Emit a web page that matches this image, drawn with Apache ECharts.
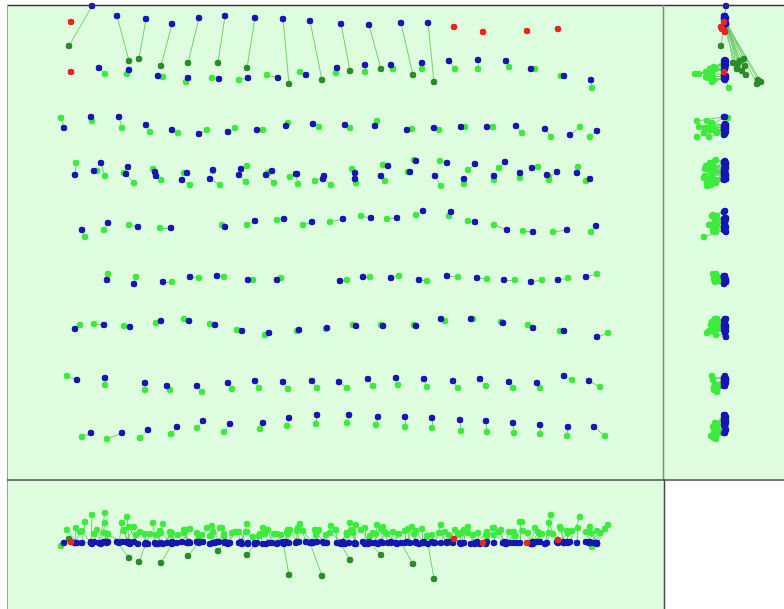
<!DOCTYPE html>
<html>
<head>
<meta charset="utf-8">
<script src="https://cdn.jsdelivr.net/npm/echarts@6/dist/echarts.min.js"></script>
<style>
  html, body { margin: 0; padding: 0; background: #ffffff; }
  #chart { width: 784px; height: 609px; }
</style>
</head>
<body>
<div id="chart"></div>
<script>
// Camera positions per flight strip: [initial X, initial Y, initial Z, computed X, computed Y, computed Z]
// Strip A: computed positions drift strongly (drawn dark green)
const stripA = [
  [92, 6, -1, 69, 46, 4], [117, 16, 1, 129, 61, -15], [146, 19, 0, 139, 59, -19],
  [172, 24, -1, 161, 66, -20], [199, 18, 1, 188, 63, -13], [225, 16, 0, 218, 63, -8],
  [255, 18, -1, 247, 68, -12], [283, 19, 1, 289, 84, -32], [310, 21, 0, 322, 80, -33],
  [341, 24, -1, 350, 71, -17], [369, 25, 1, 381, 69, -12], [401, 23, 0, 413, 75, -21],
  [428, 23, -1, 434, 82, -36]
];
const stripB = [
  [99, 68, 0, 105, 74, 30], [129, 70, 1, 127, 74, 26], [158, 76, -1, 163, 77, 19],
  [188, 78, 0, 186, 82, 13], [219, 79, 1, 212, 78, 17], [248, 78, -1, 239, 80, 11],
  [278, 78, 0, 267, 75, 13], [306, 75, 1, 300, 72, 19], [337, 68, 0, 336, 73, 13],
  [365, 65, -1, 365, 72, 15], [391, 65, 1, 393, 69, 11], [422, 63, 0, 422, 69, 14],
  [449, 61, 1, 455, 69, 13], [478, 60, 0, 478, 69, 10], [506, 61, -1, 509, 67, 11],
  [531, 69, 0, 535, 69, 15], [564, 76, 1, 561, 76, 14], [591, 80, 0, 592, 88, -4]
];
const stripC = [
  [64, 128, 0, 61, 118, -3], [91, 117, 1, 92, 121, 28], [119, 117, 0, 122, 128, 20],
  [146, 125, -1, 150, 132, 9], [172, 130, 1, 178, 133, 8], [199, 134, 0, 207, 130, 15],
  [228, 132, -1, 235, 128, 11], [257, 130, 0, 263, 130, 15], [286, 126, 1, 288, 123, 13],
  [313, 124, 0, 319, 127, 13], [345, 125, -1, 350, 128, 20], [375, 126, 0, 377, 121, 18],
  [407, 130, 1, 412, 129, 16], [434, 128, 0, 439, 130, 10], [461, 127, -1, 465, 127, 13],
  [487, 127, 1, 493, 127, 15], [516, 126, 0, 522, 133, 21], [545, 129, -1, 551, 137, 28],
  [570, 135, 1, 580, 127, 26], [597, 131, 0, 590, 137, 16]
];
const stripD = [
  [75, 175, 0, 76, 163, 15], [94, 171, 1, 97, 171, 13], [101, 163, -1, 105, 176, 20],
  [128, 167, 0, 124, 173, 13], [126, 174, 1, 134, 183, 16], [155, 172, 0, 153, 169, 20],
  [156, 176, -1, 161, 180, 10], [187, 173, 0, 184, 173, 13], [182, 180, 1, 190, 185, 14],
  [213, 170, 0, 213, 171, 11], [210, 179, -1, 220, 185, 15], [241, 169, 1, 247, 166, 19],
  [239, 175, 0, 246, 182, 11], [272, 171, 0, 268, 173, 13], [266, 175, -1, 274, 183, 9],
  [297, 174, 1, 290, 177, 13], [296, 174, 0, 298, 184, 15], [324, 176, 0, 315, 181, 13],
  [323, 179, 1, 331, 185, 17], [355, 173, 0, 352, 169, 13], [355, 179, -1, 356, 183, 18],
  [388, 166, 0, 383, 165, 16], [381, 176, 1, 385, 181, 11], [416, 161, 0, 414, 160, 9],
  [410, 172, 0, 408, 172, 14], [447, 163, 1, 440, 161, 10], [435, 176, 0, 441, 186, 18],
  [475, 164, -1, 468, 170, 16], [464, 179, 0, 464, 184, 13], [505, 162, 1, 499, 168, 11],
  [494, 176, 0, 494, 180, 15], [520, 173, 0, 520, 178, 21], [532, 168, -1, 538, 167, 11],
  [557, 172, 1, 549, 177, 20], [547, 175, 0, 549, 180, 10], [577, 173, 0, 578, 167, 15],
  [590, 179, 1, 586, 181, 11]
];
const stripE = [
  [82, 230, 0, 85, 237, 21], [108, 223, 1, 104, 230, 10], [138, 227, -1, 129, 225, 16],
  [171, 228, 0, 160, 228, 12], [225, 227, 1, 222, 225, 15], [255, 221, 0, 247, 225, 11],
  [284, 219, -1, 277, 220, 9], [312, 222, 0, 303, 225, 12], [343, 219, 1, 330, 222, 10],
  [371, 218, 0, 361, 216, 13], [397, 218, -1, 387, 219, 9], [423, 211, 0, 416, 215, 12],
  [451, 212, 1, 449, 216, 8], [475, 222, 0, 468, 221, 10], [507, 230, 0, 494, 225, 8],
  [533, 232, -1, 523, 231, 12], [567, 230, 1, 553, 232, 9], [596, 226, 0, 591, 232, 10]
];
const stripF = [
  [107, 280, 0, 108, 274, 9], [134, 284, 1, 136, 277, 8], [163, 282, -1, 172, 282, 10],
  [190, 277, 0, 199, 278, 7], [217, 276, 1, 224, 277, 9], [248, 280, 0, 253, 280, 6],
  [277, 280, -1, 281, 278, 8], [340, 281, 0, 347, 280, 10], [363, 277, 1, 370, 277, 7],
  [391, 278, 0, 399, 276, 9], [419, 280, -1, 427, 281, 6], [447, 276, 0, 458, 277, 8],
  [477, 278, 1, 487, 279, 11], [504, 280, 0, 515, 280, 7], [531, 282, -1, 542, 280, 9],
  [558, 280, 0, 568, 278, 10], [586, 277, 1, 597, 274, 12]
];
const stripG = [
  [75, 329, 0, 80, 325, 11], [104, 325, 1, 94, 324, 9], [130, 327, -1, 124, 326, 12],
  [161, 321, 0, 156, 323, 8], [189, 321, 1, 184, 319, 10], [215, 325, 0, 210, 324, 7],
  [242, 331, -1, 237, 330, 11], [269, 333, 0, 265, 335, 9], [299, 330, 1, 297, 331, 12],
  [327, 328, 0, 326, 329, 8], [356, 326, -1, 353, 325, 10], [383, 326, 0, 381, 325, 14],
  [416, 326, 1, 414, 325, 9], [441, 319, 0, 445, 321, 11], [471, 319, -1, 473, 319, 8],
  [503, 323, 0, 501, 322, 13], [533, 328, 1, 528, 325, 10], [564, 331, 0, 560, 331, 16],
  [597, 337, -1, 608, 333, 18]
];
const stripH = [
  [77, 380, 0, 67, 376, 13], [105, 378, 1, 105, 385, 10], [145, 383, -1, 145, 390, 9],
  [167, 386, 0, 170, 390, 11], [197, 386, 1, 202, 392, 8], [228, 383, 0, 232, 389, 10],
  [255, 381, -1, 259, 388, 7], [283, 382, 0, 288, 389, 9], [312, 381, 1, 317, 388, 11],
  [339, 382, 0, 347, 388, 8], [368, 379, -1, 373, 386, 10], [396, 378, 0, 398, 385, 9],
  [424, 379, 1, 427, 387, 7], [453, 381, 0, 458, 388, 10], [480, 379, -1, 486, 386, 8],
  [509, 382, 0, 513, 388, 11], [537, 383, 1, 540, 388, 9], [564, 376, 0, 572, 380, 12],
  [589, 381, 0, 600, 387, 10]
];
const stripI = [
  [91, 433, 0, 82, 437, 12], [122, 433, 1, 107, 439, 9], [148, 430, -1, 140, 438, 11],
  [177, 427, 0, 171, 434, 8], [203, 421, 1, 197, 428, 10], [230, 424, 0, 224, 432, 7],
  [263, 423, -1, 260, 429, 9], [289, 418, 0, 287, 426, 11], [317, 415, 1, 316, 424, 8],
  [349, 415, 0, 347, 423, 10], [378, 417, -1, 376, 425, 9], [405, 417, 0, 405, 427, 12],
  [432, 418, 1, 432, 428, 8], [460, 420, 0, 461, 431, 10], [486, 421, -1, 487, 432, 7],
  [513, 423, 0, 514, 433, 11], [540, 425, 1, 540, 434, 9], [568, 427, 0, 567, 436, 12],
  [594, 427, 0, 605, 436, 14]
];
// Uncalibrated images: [X, Y, Z] of the initial position only
const uncalibrated = [
  [71, 22, 1], [71, 72, 1], [454, 27, 4], [483, 32, 0], [527, 31, 0], [558, 29, 3]
];

const regularStrips = [stripB, stripC, stripD, stripE, stripF, stripG, stripH, stripI];
const allCams = stripA.concat(...regularStrips);
const regularCams = [].concat(...regularStrips);

const COLORS = {
  bg: '#defcde',
  initial: '#1616b4',
  computed: '#3cec3c',
  drifted: '#2c8c2c',
  uncal: '#e8261e',
  link: '#66cc66'
};

// Three projections: top (X,Y), side (Z,Y), front (X,Z)
const views = [
  { idx: 0, proj: (x, y, z) => [x, y] },
  { idx: 1, proj: (x, y, z) => [z, y] },
  { idx: 2, proj: (x, y, z) => [x, z] }
];

const series = [];
views.forEach(v => {
  const ax = { xAxisIndex: v.idx, yAxisIndex: v.idx };
  series.push(Object.assign({
    type: 'lines',
    coordinateSystem: 'cartesian2d',
    silent: true,
    z: 1,
    lineStyle: { color: COLORS.link, width: 1, opacity: 0.9, curveness: 0 },
    data: allCams.map(c => ({ coords: [v.proj(c[0], c[1], c[2]), v.proj(c[3], c[4], c[5])] }))
  }, ax));
  series.push(Object.assign({
    type: 'scatter', symbolSize: 6.5, z: 2, silent: true,
    itemStyle: { color: COLORS.computed, opacity: 1 },
    data: regularCams.map(c => v.proj(c[3], c[4], c[5]))
  }, ax));
  series.push(Object.assign({
    type: 'scatter', symbolSize: 6.5, z: 2, silent: true,
    itemStyle: { color: COLORS.drifted, opacity: 1 },
    data: stripA.map(c => v.proj(c[3], c[4], c[5]))
  }, ax));
  series.push(Object.assign({
    type: 'scatter', symbolSize: 6.5, z: 3, silent: true,
    itemStyle: { color: COLORS.initial, opacity: 1 },
    data: allCams.map(c => v.proj(c[0], c[1], c[2]))
  }, ax));
  series.push(Object.assign({
    type: 'scatter', symbolSize: 6.5, z: 4, silent: true,
    itemStyle: { color: COLORS.uncal, opacity: 1 },
    data: uncalibrated.map(c => v.proj(c[0], c[1], c[2]))
  }, ax));
});

const hiddenAxis = (extra) => Object.assign({
  type: 'value', show: false, splitLine: { show: false }, scale: false
}, extra);

// Panel frames
const frame = (x1, y1, x2, y2, color, w) => ({
  type: 'line', silent: true, z: 100,
  shape: { x1: x1, y1: y1, x2: x2, y2: y2 },
  style: { stroke: color, lineWidth: w }
});

const option = {
  animation: false,
  backgroundColor: '#ffffff',
  grid: [
    { left: 7, top: 5, width: 656, height: 474, show: true, backgroundColor: COLORS.bg, borderWidth: 0 },
    { left: 663, top: 5, width: 121, height: 474, show: true, backgroundColor: COLORS.bg, borderWidth: 0 },
    { left: 7, top: 480, width: 658, height: 129, show: true, backgroundColor: COLORS.bg, borderWidth: 0 }
  ],
  xAxis: [
    hiddenAxis({ gridIndex: 0, min: 7, max: 663 }),
    hiddenAxis({ gridIndex: 1, min: -59, max: 62, inverse: true }),
    hiddenAxis({ gridIndex: 2, min: 7, max: 665 })
  ],
  yAxis: [
    hiddenAxis({ gridIndex: 0, min: 5, max: 479, inverse: true }),
    hiddenAxis({ gridIndex: 1, min: 5, max: 479, inverse: true }),
    hiddenAxis({ gridIndex: 2, min: -66, max: 63 })
  ],
  graphic: [
    frame(7, 5.5, 784, 5.5, '#3a3a3a', 1.5),
    frame(7.5, 5, 7.5, 609, '#9aa69a', 1),
    frame(663.5, 5, 663.5, 480, '#7c8c7c', 1.5),
    frame(7, 480, 784, 480, '#4a4a4a', 1.5),
    frame(664.5, 480, 664.5, 609, '#4a4a4a', 1.5)
  ],
  series: series
};

const chart = echarts.init(document.getElementById('chart'), null, { renderer: 'canvas' });
chart.setOption(option);
</script>
</body>
</html>
